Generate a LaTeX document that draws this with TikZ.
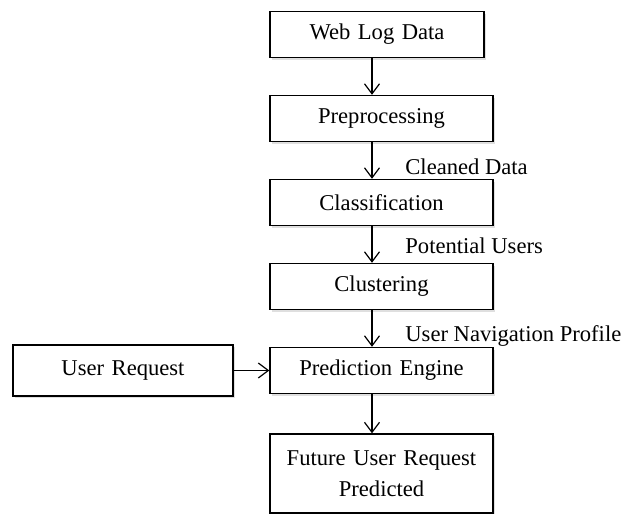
\documentclass[tikz,border=0pt]{standalone}
\usepackage{fontspec}
\setmainfont{Liberation Serif}
\usepackage{tikz}
\usetikzlibrary{shapes,arrows.meta,positioning,shadows}

\begin{document}
\begin{tikzpicture}[node distance=42pt, auto,
        box/.style={rectangle, draw=black, line width=0.7pt, fill=white, text width=105pt, inner xsep=3.25pt, align=center, minimum height=23pt, font=\fontsize{11.3}{15.5}\selectfont, drop shadow={shadow xshift=1pt, shadow yshift=-1pt, opacity=0.25}},
        lbl/.style={font=\fontsize{11.3}{15.5}\selectfont, anchor=base west, inner sep=0pt},
        arrow/.style={-{Straight Barb[length=5pt,width=7.5pt]}, line width=0.6pt}
    ]
        \useasboundingbox (0,0) rectangle (311pt,-257pt);
        \node[box, text width=100.5pt] (web) at (188.5pt,-17.25pt) {Web Log Data};
        \node[box, below of=web, xshift=2.25pt] (pre) {Preprocessing};
        \node[box, below of=pre] (cls) {Classification};
        \node[box, below of=cls] (clu) {Clustering};
        \node[box, below of=clu] (pred) {Prediction Engine};
        \node[box, below of=pred, yshift=-9.5pt, minimum height=39.5pt] (fut) {Future User Request\\ Predicted};
        \node[box, left of=pred, node distance=129.25pt, text width=103.5pt, minimum height=25.5pt] (req) {User Request};
        % labels on the arrows
        \node[lbl] (cleaned) at ([xshift=11.75pt, yshift=2pt]cls.north) {Cleaned Data};
        \node[lbl] (potential) at ([xshift=11.75pt, yshift=4.5pt]clu.north) {Potential Users};
        \node[lbl] (profile) at ([xshift=11.75pt, yshift=2.5pt]pred.north) {User Navigation Profile};
        \draw[arrow] ([xshift=-4.75pt]pre.north |- web.south) -- ([xshift=-4.75pt]pre.north);
        \draw[arrow] ([xshift=-4.75pt]pre.south) -- ([xshift=-4.75pt]cls.north);
        \draw[arrow] ([xshift=-4.75pt]cls.south) -- ([xshift=-4.75pt]clu.north);
        \draw[arrow] ([xshift=-4.75pt]clu.south) -- ([xshift=-4.75pt]pred.north);
        \draw[arrow] ([xshift=-4.75pt]pred.south) -- ([xshift=-4.75pt]fut.north);
        \draw[arrow] (req) -- (pred);
    \end{tikzpicture}
\end{document}
